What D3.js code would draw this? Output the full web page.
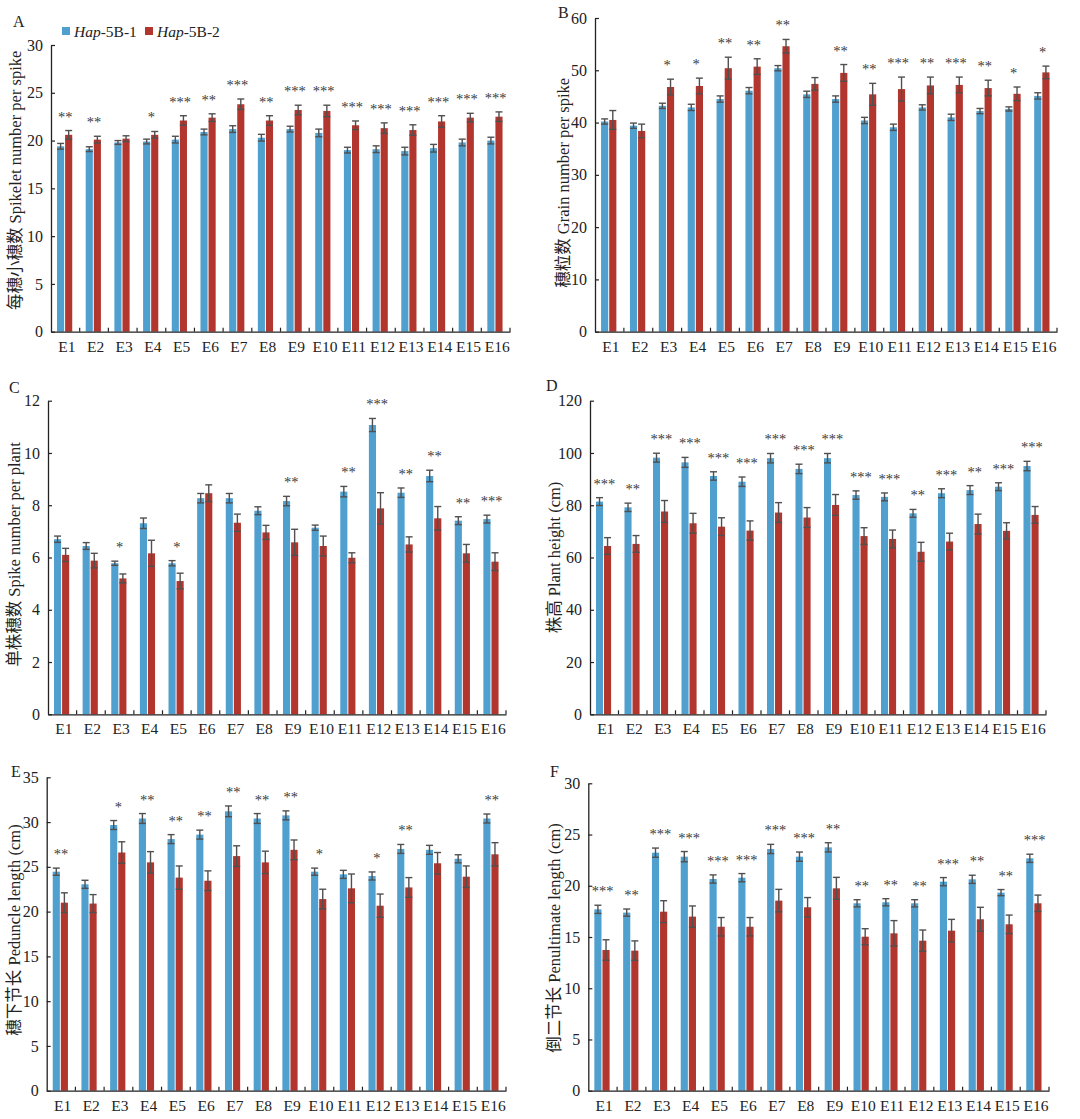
<!DOCTYPE html>
<html>
<head>
<meta charset="utf-8">
<script src="https://cdn.jsdelivr.net/npm/d3@7"></script>
<style>
  html, body { margin: 0; padding: 0; background: #fff; }
  svg { display: block; opacity: 0.995; }
</style>
</head>
<body>
<svg id="chart" width="1080" height="1119"></svg>
<script>
const categories = ["E1","E2","E3","E4","E5","E6","E7","E8","E9","E10","E11","E12","E13","E14","E15","E16"];
const seriesNames = ["Hap-5B-1", "Hap-5B-2"];

// A: Spikelet number per spike
const spikeletHap1 = [19.4,19.1,19.8,19.9,20.1,20.9,21.2,20.3,21.2,20.8,19.0,19.1,18.9,19.2,19.8,20.0];
const spikeletHap2 = [20.6,20.1,20.2,20.6,22.1,22.4,23.8,22.1,23.2,23.1,21.6,21.3,21.1,22.0,22.4,22.5];
const spikeletErr1 = [0.3,0.25,0.2,0.25,0.35,0.3,0.35,0.35,0.3,0.4,0.3,0.35,0.4,0.4,0.35,0.35];
const spikeletErr2 = [0.45,0.35,0.3,0.35,0.5,0.4,0.55,0.5,0.5,0.6,0.45,0.55,0.55,0.6,0.45,0.5];
const spikeletSig  = ["**","**","","*","***","**","***","**","***","***","***","***","***","***","***","***"];

// B: Grain number per spike
const grainHap1 = [40.2,39.4,43.2,42.9,44.5,46.1,50.4,45.4,44.5,40.4,39.1,42.9,41.0,42.2,42.6,45.1];
const grainHap2 = [40.5,38.4,46.8,47.0,50.4,50.7,54.6,47.4,49.5,45.4,46.4,47.1,47.2,46.6,45.5,49.6];
const grainErr1 = [0.5,0.5,0.5,0.6,0.6,0.6,0.5,0.6,0.6,0.6,0.6,0.5,0.6,0.5,0.4,0.6];
const grainErr2 = [1.8,1.3,1.5,1.5,2.1,1.5,1.3,1.2,1.6,2.1,2.3,1.6,1.5,1.5,1.3,1.2];
const grainSig  = ["","","*","*","**","**","**","","**","**","***","**","***","**","*","*"];

// C: Spike number per plant
const spikeHap1 = [6.70,6.44,5.78,7.31,5.78,8.27,8.27,7.79,8.16,7.14,8.52,11.07,8.48,9.12,7.41,7.47];
const spikeHap2 = [6.10,5.88,5.20,6.16,5.10,8.46,7.33,6.96,6.58,6.44,5.99,7.88,6.50,7.50,6.16,5.84];
const spikeErr1 = [0.12,0.13,0.08,0.2,0.1,0.18,0.18,0.15,0.18,0.1,0.2,0.25,0.18,0.22,0.15,0.15];
const spikeErr2 = [0.25,0.28,0.17,0.5,0.3,0.32,0.33,0.27,0.5,0.38,0.19,0.6,0.29,0.45,0.34,0.34];
const spikeSig  = ["","","*","","*","","","","**","","**","***","**","**","**","***"];

// D: Plant height (cm)
const heightHap1 = [81.4,79.2,98.2,96.4,91.2,89.0,98.0,93.9,98.0,83.9,83.2,76.9,84.6,85.8,87.1,95.0];
const heightHap2 = [64.4,65.2,77.6,73.1,71.8,70.3,77.2,75.3,80.1,68.2,67.1,62.2,66.1,72.8,70.2,76.3];
const heightErr1 = [1.5,1.6,1.7,1.9,1.6,1.8,1.8,1.8,1.8,1.6,1.5,1.5,1.7,1.7,1.5,1.8];
const heightErr2 = [3.2,3.2,4.2,3.8,3.4,3.7,3.8,3.8,4.0,3.2,3.4,3.6,3.2,3.8,3.1,3.2];
const heightSig  = ["***","**","***","***","***","***","***","***","***","***","***","**","***","**","***","***"];

// E: Peduncle length (cm)
const peduncleHap1 = [24.46,23.05,29.67,30.4,28.1,28.6,31.2,30.4,30.75,24.46,24.16,23.98,27.0,26.9,25.9,30.4];
const peduncleHap2 = [21.0,20.9,26.6,25.5,23.8,23.45,26.2,25.5,26.9,21.4,22.6,20.66,22.7,25.4,23.9,26.4];
const peduncleErr1 = [0.4,0.45,0.5,0.55,0.5,0.5,0.6,0.55,0.5,0.4,0.45,0.45,0.5,0.5,0.45,0.5];
const peduncleErr2 = [1.1,1.0,1.2,1.2,1.3,1.1,1.15,1.25,1.1,1.1,1.6,1.3,1.1,1.2,1.2,1.3];
const peduncleSig  = ["**","","*","**","**","**","**","**","**","*","","*","**","","","**"];

// F: Penultimate length (cm)
const penultHap1 = [17.7,17.38,23.23,22.84,20.66,20.79,23.59,22.84,23.75,18.29,18.39,18.29,20.4,20.63,19.33,22.68];
const penultHap2 = [13.73,13.67,17.47,16.99,16.0,16.0,18.55,17.9,19.75,15.03,15.36,14.64,15.62,16.73,16.24,18.29];
const penultErr1 = [0.4,0.35,0.45,0.5,0.4,0.4,0.45,0.45,0.45,0.35,0.35,0.35,0.4,0.4,0.3,0.4];
const penultErr2 = [1.0,0.95,1.07,1.04,0.9,0.9,1.1,0.95,1.07,0.78,1.24,1.04,1.1,1.17,0.9,0.8];
const penultSig  = ["***","**","***","***","***","***","***","***","**","**","**","**","***","**","**","***"];

const colors = ["#4f9fcf", "#b2362e"];
const serif = "'Liberation Serif','Times New Roman','Noto Sans CJK SC',serif";

const panels = [
  { letter: "A", label: "每穗小穗数 Spikelet number per spike", max: 30, step: 5,
    v1: spikeletHap1, v2: spikeletHap2, e1: spikeletErr1, e2: spikeletErr2, sig: spikeletSig,
    x0: 51, x1: 510, yTop: 45, yBot: 331.7, lx: 13, ly: 27, labX: 17, labDy: -8 },
  { letter: "B", label: "穗粒数 Grain number per spike", max: 60, step: 10,
    v1: grainHap1, v2: grainHap2, e1: grainErr1, e2: grainErr2, sig: grainSig,
    x0: 595, x1: 1057, yTop: 18, yBot: 331.7, lx: 558, ly: 18, labX: 565, labDy: 8 },
  { letter: "C", label: "单株穗数 Spike number per plant", max: 12, step: 2,
    v1: spikeHap1, v2: spikeHap2, e1: spikeErr1, e2: spikeErr2, sig: spikeSig,
    x0: 48, x1: 506, yTop: 400.7, yBot: 714.3, lx: 9, ly: 393, labX: 16, labDy: -3 },
  { letter: "D", label: "株高 Plant height (cm)", max: 120, step: 20,
    v1: heightHap1, v2: heightHap2, e1: heightErr1, e2: heightErr2, sig: heightSig,
    x0: 590, x1: 1046, yTop: 400.7, yBot: 714.3, lx: 546, ly: 391, labX: 556, labDy: 0 },
  { letter: "E", label: "穗下节长 Peduncle length (cm)", max: 35, step: 5,
    v1: peduncleHap1, v2: peduncleHap2, e1: peduncleErr1, e2: peduncleErr2, sig: peduncleSig,
    x0: 46.7, x1: 506, yTop: 777.3, yBot: 1090.7, lx: 11, ly: 777, labX: 16, labDy: -4 },
  { letter: "F", label: "倒二节长 Penultimate length (cm)", max: 30, step: 5,
    v1: penultHap1, v2: penultHap2, e1: penultErr1, e2: penultErr2, sig: penultSig,
    x0: 588.3, x1: 1049, yTop: 783.3, yBot: 1090.7, lx: 550, ly: 777, labX: 556, labDy: 1 }
];

const svg = d3.select("#chart");

panels.forEach(p => {
  const g = svg.append("g");
  const x = d3.scaleBand().domain(categories).range([p.x0, p.x1]).paddingInner(0).paddingOuter(0);
  const bw = x.bandwidth();
  const xs = d3.scaleBand().domain(seriesNames).range([bw * 0.21, bw * 0.74]).paddingInner(0.12);
  const y = d3.scaleLinear().domain([0, p.max]).range([p.yBot, p.yTop]);

  const rows = categories.map((c, i) => ({
    cat: c,
    vals: [
      { s: seriesNames[0], v: p.v1[i], e: p.e1[i], col: colors[0] },
      { s: seriesNames[1], v: p.v2[i], e: p.e2[i], col: colors[1] }
    ],
    sig: p.sig[i]
  }));

  const grp = g.selectAll("g.grp").data(rows).join("g")
    .attr("transform", d => `translate(${x(d.cat)},0)`);

  grp.selectAll("rect").data(d => d.vals).join("rect")
    .attr("x", d => xs(d.s))
    .attr("width", xs.bandwidth())
    .attr("y", d => y(d.v))
    .attr("height", d => y(0) - y(d.v))
    .attr("fill", d => d.col);

  const eb = grp.selectAll("g.eb").data(d => d.vals).join("g")
    .attr("stroke", "#505050").attr("stroke-width", 1.4).attr("fill", "none");
  eb.append("line")
    .attr("x1", d => xs(d.s) + xs.bandwidth() / 2)
    .attr("x2", d => xs(d.s) + xs.bandwidth() / 2)
    .attr("y1", d => y(d.v - d.e))
    .attr("y2", d => y(d.v + d.e));
  eb.append("line")
    .attr("x1", d => xs(d.s) + xs.bandwidth() / 2 - 3.5)
    .attr("x2", d => xs(d.s) + xs.bandwidth() / 2 + 3.5)
    .attr("y1", d => y(d.v + d.e)).attr("y2", d => y(d.v + d.e));
  eb.append("line")
    .attr("x1", d => xs(d.s) + xs.bandwidth() / 2 - 3.5)
    .attr("x2", d => xs(d.s) + xs.bandwidth() / 2 + 3.5)
    .attr("y1", d => y(d.v - d.e)).attr("y2", d => y(d.v - d.e));

  grp.append("text")
    .attr("x", bw / 2)
    .attr("y", d => y(d3.max(d.vals, v => v.v + v.e)) - 9)
    .attr("text-anchor", "middle")
    .attr("font-family", serif)
    .attr("font-size", 14.5)
    .attr("fill", "#3a3a3a")
    .text(d => d.sig);

  // y axis (ticks inward)
  const yAxis = d3.axisLeft(y).tickValues(d3.range(0, p.max + 0.001, p.step))
    .tickSize(-4).tickPadding(8).tickSizeOuter(0);
  const ya = g.append("g").attr("transform", `translate(${p.x0},0)`).call(yAxis);
  ya.select(".domain").attr("stroke", "#222").attr("stroke-width", 1.3);
  ya.selectAll(".tick line").attr("stroke", "#222").attr("stroke-width", 1.2);
  ya.selectAll("text").attr("font-family", serif).attr("font-size", 16).attr("fill", "#222");

  // x axis
  const xAxis = d3.axisBottom(x).tickSize(0).tickPadding(9).tickSizeOuter(0);
  const xa = g.append("g").attr("transform", `translate(0,${p.yBot})`).call(xAxis);
  xa.select(".domain").attr("stroke", "#222").attr("stroke-width", 1.3);
  xa.selectAll("text").attr("font-family", serif).attr("font-size", 15.5).attr("fill", "#222")
    .attr("dx", 1.5);
  // group boundary ticks pointing up
  g.append("g").selectAll("line").data(categories.slice(1).concat(["__end"])).join("line")
    .attr("x1", d => d === "__end" ? p.x1 : x(d))
    .attr("x2", d => d === "__end" ? p.x1 : x(d))
    .attr("y1", p.yBot).attr("y2", p.yBot - 4)
    .attr("stroke", "#222").attr("stroke-width", 1.2);

  // y label
  g.append("text")
    .attr("transform", `translate(${p.labX},${(p.yTop + p.yBot) / 2 + p.labDy}) rotate(-90)`)
    .attr("text-anchor", "middle")
    .attr("dominant-baseline", "middle")
    .attr("font-family", serif)
    .attr("font-size", 16.5)
    .attr("fill", "#222")
    .text(p.label);

  // panel letter
  g.append("text")
    .attr("x", p.lx).attr("y", p.ly)
    .attr("font-family", serif).attr("font-size", 16).attr("fill", "#222")
    .text(p.letter);
});

// legend (panel A)
const legend = svg.append("g").attr("transform", "translate(62,31)");
const li = legend.selectAll("g").data(seriesNames).join("g")
  .attr("transform", (d, i) => `translate(${i * 83},0)`);
li.append("rect").attr("x", 0).attr("y", -4).attr("width", 8).attr("height", 8)
  .attr("fill", (d, i) => colors[i]);
const lt = li.append("text").attr("x", 12).attr("y", 5.5)
  .attr("font-family", serif).attr("font-size", 15.5).attr("fill", "#222");
lt.append("tspan").attr("font-style", "italic").text(d => d.split("-")[0]);
lt.append("tspan").text(d => "-" + d.split("-").slice(1).join("-"));
</script>
</body>
</html>
